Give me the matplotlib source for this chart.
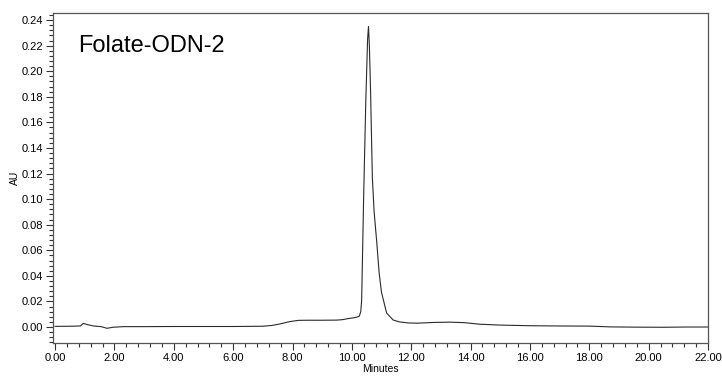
import numpy as np
import matplotlib.pyplot as plt
from matplotlib.ticker import MultipleLocator, FormatStrFormatter

# retention time [min] and absorbance [AU]
minutes = [0.0, 0.5, 0.85, 0.95, 1.1, 1.3, 1.55, 1.75, 1.95, 2.3, 3.0, 4.0, 5.0, 6.0, 7.0,
           7.3, 7.6, 7.9, 8.2, 8.5, 9.0, 9.5, 9.7, 9.85, 10.0, 10.15, 10.25, 10.30, 10.33,
           10.40, 10.47, 10.53, 10.56, 10.59, 10.63, 10.69, 10.75, 10.84, 10.92, 11.0,
           11.17, 11.39, 11.6, 11.9, 12.2, 12.8, 13.3, 13.8, 14.3, 15.0, 16.0, 17.0,
           18.0, 18.7, 19.5, 20.5, 21.3, 22.0]
au = [0.0005, 0.0006, 0.0008, 0.0028, 0.0018, 0.0008, 0.0003, -0.0010, -0.0002, 0.0003,
      0.0003, 0.0004, 0.0004, 0.0004, 0.0006, 0.0012, 0.0025, 0.0042, 0.0052, 0.0053,
      0.0053, 0.0054, 0.0058, 0.0065, 0.0070, 0.0076, 0.0085, 0.0120, 0.0210, 0.1050,
      0.1770, 0.2250, 0.2350, 0.2200, 0.1850, 0.1170, 0.0900, 0.0660, 0.0420, 0.0270,
      0.0110, 0.0055, 0.0040, 0.0032, 0.0030, 0.0036, 0.0038, 0.0034, 0.0022, 0.0015,
      0.0010, 0.0008, 0.0007, 0.0001, -0.0001, -0.0002, 0.0000, 0.0000]

title = 'Folate-ODN-2'

plt.rcParams['font.family'] = ['Liberation Sans', 'DejaVu Sans']

fig = plt.figure(figsize=(7.22, 3.77), dpi=100)
ax = fig.add_axes([53 / 722, 1 - 343 / 377, (708 - 53) / 722, (343 - 13) / 377])

ax.plot(minutes, au, color='#2a2a2a', lw=0.8)

ax.set_xlim(-0.07, 22.0)
ax.set_ylim(-0.0125, 0.2455)

ax.xaxis.set_major_locator(MultipleLocator(2))
ax.xaxis.set_minor_locator(MultipleLocator(0.4))
ax.yaxis.set_major_locator(MultipleLocator(0.02))
ax.yaxis.set_minor_locator(MultipleLocator(0.004))
ax.xaxis.set_major_formatter(FormatStrFormatter('%.2f'))
ax.yaxis.set_major_formatter(FormatStrFormatter('%.2f'))

ax.tick_params(which='both', direction='out', color='#333333', labelsize=8, pad=2)
ax.tick_params(which='major', length=5, width=0.8)
ax.tick_params(which='minor', length=3, width=0.8)

for s in ax.spines.values():
    s.set_color('#555555')
    s.set_linewidth(0.9)

ax.set_xlabel('Minutes', fontsize=7.5, labelpad=1)
ax.set_ylabel('AU', fontsize=7.5, labelpad=1)

ax.text(0.038, 0.882, title, transform=ax.transAxes, fontsize=17, va='baseline', ha='left')

fig.savefig('out.png', dpi=100)
